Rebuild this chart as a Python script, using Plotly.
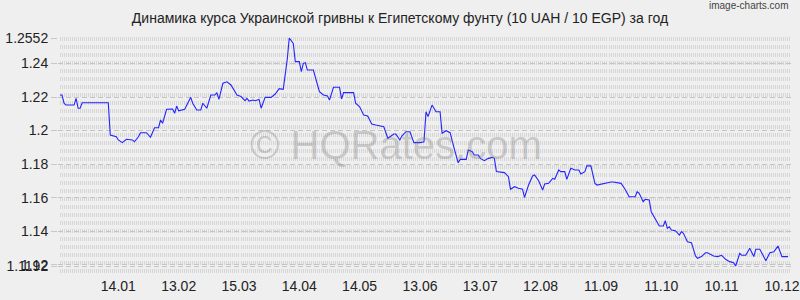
import pandas as pd
import plotly.graph_objects as go

# ---- data ----
start_date = "2012-12-15"
end_date = "2013-12-15"

day_offsets = [
    1, 2, 3, 4, 8, 9, 10, 11, 12, 25,
    26, 29, 30, 32, 34, 37, 38, 40, 41, 44,
    46, 48, 50, 51, 52, 54, 57, 58, 59, 60,
    63, 66, 67, 69, 71, 72, 74, 76, 78, 79,
    80, 82, 84, 86, 89, 91, 93, 94, 95, 97,
    98, 100, 101, 103, 106, 108, 110, 112, 114, 115,
    117, 118, 120, 121, 122, 123, 124, 127, 130, 132,
    134, 135, 137, 140, 141, 142, 147, 148, 150, 152,
    154, 156, 158, 160, 162, 164, 167, 168, 170, 171,
    173, 175, 177, 180, 182, 183, 184, 186, 188, 190,
    191, 193, 195, 197, 199, 200, 203, 204, 206, 207,
    209, 210, 212, 214, 216, 217, 218, 222, 224, 225,
    227, 229, 231, 232, 234, 236, 237, 239, 241, 242,
    244, 246, 247, 249, 250, 252, 253, 255, 257, 259,
    260, 262, 263, 265, 267, 268, 270, 272, 275, 276,
    280, 282, 284, 287, 288, 289, 291, 292, 294, 295,
    296, 299, 301, 302, 303, 304, 305, 307, 309, 310,
    311, 313, 315, 317, 318, 320, 322, 323, 326, 328,
    330, 332, 334, 336, 337, 339, 340, 342, 344, 346,
    347, 349, 352, 354, 356, 358, 360, 363,
]

rates = [
    1.2212, 1.2212, 1.2163, 1.2152, 1.2152, 1.2192, 1.2133, 1.2133, 1.2166, 1.2166,
    1.1973, 1.1963, 1.1944, 1.1928, 1.1948, 1.1944, 1.1933, 1.1963, 1.1987, 1.1987,
    1.1960, 1.2017, 1.2017, 1.2063, 1.2043, 1.2127, 1.2128, 1.2103, 1.2146, 1.2118,
    1.2127, 1.2198, 1.2163, 1.2123, 1.2123, 1.2163, 1.2133, 1.2212, 1.2212, 1.2226,
    1.2186, 1.2282, 1.2291, 1.2272, 1.2212, 1.2203, 1.2178, 1.2192, 1.2176, 1.2182,
    1.2178, 1.2186, 1.2133, 1.2198, 1.2198, 1.2218, 1.2250, 1.2246, 1.2425, 1.2552,
    1.2520, 1.2411, 1.2411, 1.2351, 1.2401, 1.2405, 1.2361, 1.2361, 1.2232, 1.2212,
    1.2206, 1.2182, 1.2258, 1.2258, 1.2188, 1.2226, 1.2226, 1.2163, 1.2142, 1.2093,
    1.2087, 1.2039, 1.2033, 1.2027, 1.2023, 1.1954, 1.1979, 1.1979, 1.1944, 1.1967,
    1.1993, 1.1993, 1.1928, 1.1928, 1.1933, 1.2112, 1.2083, 1.2152, 1.2112, 1.2112,
    1.1984, 1.1999, 1.1987, 1.1894, 1.1808, 1.1828, 1.1828, 1.1884, 1.1874, 1.1854,
    1.1854, 1.1834, 1.1820, 1.1834, 1.1840, 1.1834, 1.1755, 1.1749, 1.1725, 1.1650,
    1.1665, 1.1656, 1.1650, 1.1602, 1.1675, 1.1729, 1.1735, 1.1701, 1.1645, 1.1681,
    1.1685, 1.1715, 1.1709, 1.1765, 1.1755, 1.1755, 1.1709, 1.1775, 1.1765, 1.1765,
    1.1741, 1.1755, 1.1789, 1.1789, 1.1685, 1.1675, 1.1681, 1.1685, 1.1693, 1.1693,
    1.1685, 1.1650, 1.1605, 1.1605, 1.1635, 1.1626, 1.1576, 1.1590, 1.1586, 1.1516,
    1.1496, 1.1431, 1.1431, 1.1462, 1.1417, 1.1426, 1.1407, 1.1403, 1.1377, 1.1397,
    1.1387, 1.1337, 1.1331, 1.1252, 1.1238, 1.1248, 1.1271, 1.1271, 1.1252, 1.1248,
    1.1256, 1.1232, 1.1218, 1.1212, 1.1192, 1.1268, 1.1256, 1.1256, 1.1298, 1.1248,
    1.1292, 1.1292, 1.1224, 1.1271, 1.1277, 1.1311, 1.1248, 1.1248,
]

x_tick_dates = ["2013-01-14", "2013-02-13", "2013-03-15", "2013-04-14", "2013-05-14",
                "2013-06-13", "2013-07-13", "2013-08-12", "2013-09-11", "2013-10-11",
                "2013-11-10", "2013-12-10"]
x_tick_labels = ["14.01", "13.02", "15.03", "14.04", "14.05", "13.06", "13.07",
                 "12.08", "11.09", "11.10", "10.11", "10.12"]

y_tick_values = [1.1192, 1.12, 1.14, 1.16, 1.18, 1.2, 1.22, 1.24, 1.2552]
y_tick_labels = ["1.1192", "1.12", "1.14", "1.16", "1.18", "1.2", "1.22", "1.24", "1.2552"]

title_text = "Динамика курса Украинской гривны к Египетскому фунту (10 UAH / 10 EGP) за год"

assert len(day_offsets) == len(rates)
dates = pd.Timestamp(start_date) + pd.to_timedelta(day_offsets, unit="D")

FONT = "Liberation Sans, Arial, sans-serif"
BG = "#efefef"

fig = go.Figure()
fig.add_trace(go.Scatter(
    x=dates, y=rates, mode="lines",
    line=dict(color="#2424ff", width=1.1),
    hoverinfo="skip",
))

y_min, y_max = min(rates), max(rates)
span = y_max - y_min

fig.update_layout(
    width=800, height=300,
    margin=dict(l=58, r=0, t=37, b=24),
    paper_bgcolor=BG, plot_bgcolor=BG,
    showlegend=False,
    font=dict(family=FONT, color="#222222", size=14),
    title=dict(text=title_text, x=0.5, xanchor="center", y=0.94, yanchor="middle",
               font=dict(family=FONT, size=14, color="#222222")),
    xaxis=dict(
        type="date",
        range=[start_date, end_date],
        tickmode="array", tickvals=x_tick_dates, ticktext=x_tick_labels,
        ticks="", showline=False, zeroline=False,
        ticklabeloverflow="allow",
        showgrid=True, gridcolor="#d6d6d6", gridwidth=1, griddash="4px,4px",
        tickfont=dict(size=14, color="#222222"),
        minor=dict(tickmode="linear", tick0=start_date, dtick=86400000,
                   showgrid=True, gridcolor="#d6d6d6", gridwidth=1, griddash="4px,4px"),
    ),
    yaxis=dict(
        range=[y_min - span * 0.0438, y_max + span * 0.0044],
        tickmode="array", tickvals=y_tick_values, ticktext=y_tick_labels,
        ticks="outside", ticklen=6, tickcolor="#c8c8c8",
        showline=False, zeroline=False,
        showgrid=True, gridcolor="#c4c4c4", gridwidth=1, griddash="5px,3px",
        tickfont=dict(size=14, color="#222222"),
    ),
    annotations=[
        dict(text="© HQRates.com", xref="paper", yref="paper", x=0.461, y=0.548,
             xanchor="center", yanchor="middle", showarrow=False,
             font=dict(family=FONT, size=40, color="rgba(120,120,120,0.33)")),
        dict(text="image-charts.com", xref="paper", yref="paper", x=0.9973, y=1.13,
             xanchor="right", yanchor="middle", showarrow=False,
             font=dict(family=FONT, size=10, color="#444444")),
    ],
)

fig.write_html("out.html")
